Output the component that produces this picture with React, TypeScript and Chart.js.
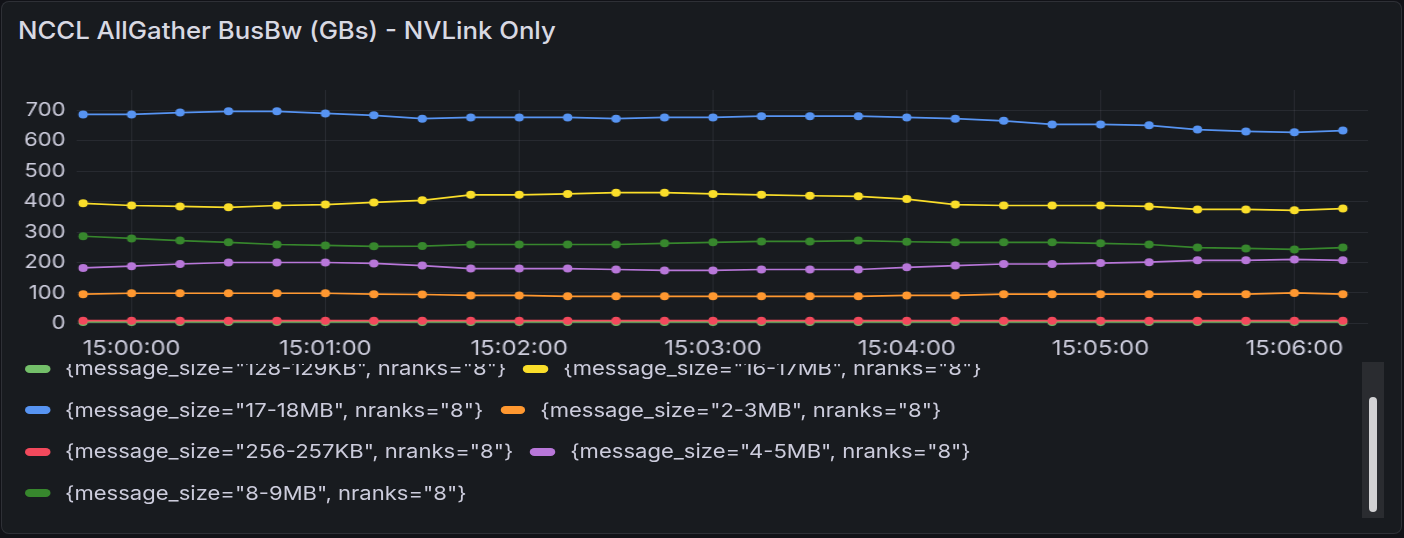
import React, { useEffect, useRef } from "react";
import { Chart, registerables } from "chart.js";

Chart.register(...registerables);

const times = [
  "14:59:45", "15:00:00", "15:00:15", "15:00:30", "15:00:45", "15:01:00", "15:01:15",
  "15:01:30", "15:01:45", "15:02:00", "15:02:15", "15:02:30", "15:02:45", "15:03:00",
  "15:03:15", "15:03:30", "15:03:45", "15:04:00", "15:04:15", "15:04:30", "15:04:45",
  "15:05:00", "15:05:15", "15:05:30", "15:05:45", "15:06:00", "15:06:15",
];

const seriesNames = [
  '{message_size="128-129KB", nranks="8"}',
  '{message_size="16-17MB", nranks="8"}',
  '{message_size="17-18MB", nranks="8"}',
  '{message_size="2-3MB", nranks="8"}',
  '{message_size="256-257KB", nranks="8"}',
  '{message_size="4-5MB", nranks="8"}',
  '{message_size="8-9MB", nranks="8"}',
];

const seriesColors = ["#73BF69", "#FADE2A", "#5794F2", "#FF9830", "#F2495C", "#B877D9", "#37872D"];

const size128KB = [5, 5, 5, 5, 5, 5, 5, 5, 5, 5, 5, 5, 5, 5, 5, 5, 5, 5, 5, 5, 5, 5, 5, 5, 5, 5, 5];
const size16MB = [394, 387, 384, 381, 387, 390, 397, 404, 422, 422, 425, 429, 429, 425, 422, 419, 417, 408, 390, 387, 387, 387, 384, 374, 374, 371, 377];
const size17MB = [686, 686, 692, 696, 696, 689, 683, 672, 676, 676, 676, 672, 676, 676, 680, 680, 680, 676, 672, 665, 653, 653, 650, 636, 630, 627, 633];
const size2MB = [96, 99, 99, 99, 99, 99, 96, 95, 92, 92, 89, 89, 89, 89, 89, 89, 89, 92, 92, 96, 96, 96, 96, 96, 96, 100, 96];
const size256KB = [9, 9, 9, 9, 9, 9, 9, 9, 9, 9, 9, 9, 9, 9, 9, 9, 9, 9, 9, 9, 9, 9, 9, 9, 9, 9, 9];
const size4MB = [182, 188, 195, 200, 200, 200, 197, 190, 180, 180, 180, 177, 174, 174, 177, 177, 177, 184, 190, 195, 195, 198, 201, 207, 207, 210, 207];
const size8MB = [286, 279, 272, 266, 259, 256, 253, 254, 259, 259, 259, 259, 263, 266, 269, 269, 272, 268, 266, 266, 266, 263, 259, 249, 246, 243, 249];

const seriesValues = [size128KB, size16MB, size17MB, size2MB, size256KB, size4MB, size8MB];

const legendRows = [[0, 1], [2, 3], [4, 5], [6]];

const yTickValues = [0, 100, 200, 300, 400, 500, 600, 700];
const xTickLabels = ["15:00:00", "15:01:00", "15:02:00", "15:03:00", "15:04:00", "15:05:00", "15:06:00"];

const FONT = "Inter, 'Noto Sans', sans-serif";
const TEXT = "#ccccdc";
const GRID = "rgba(204,204,220,0.09)";

// horizontal stretch of the reference rendering
const STRETCH = 1404 / 1210;
const CW = 1210;
const CH = 310;

function toSec(t: string): number {
  const [h, m, s] = t.split(":").map(Number);
  return h * 3600 + m * 60 + s - 15 * 3600;
}

function fmtSec(v: number): string {
  const total = 15 * 3600 + v;
  const h = Math.floor(total / 3600);
  const m = Math.floor((total % 3600) / 60);
  const s = total % 60;
  const p = (n: number) => String(n).padStart(2, "0");
  return `${p(h)}:${p(m)}:${p(s)}`;
}

function ChartCanvas() {
  const ref = useRef<HTMLCanvasElement | null>(null);
  useEffect(() => {
    if (!ref.current) return;
    const n = seriesValues.length;
    const chart = new Chart(ref.current, {
      type: "line",
      data: {
        datasets: seriesValues.map((vals, i) => ({
          label: seriesNames[i],
          data: vals.map((v, j) => ({ x: toSec(times[j]), y: v })),
          borderColor: seriesColors[i],
          backgroundColor: seriesColors[i],
          pointBackgroundColor: seriesColors[i],
          pointBorderWidth: 0,
          pointRadius: 4,
          borderWidth: 1.7,
          tension: 0,
          order: n - i,
        })),
      },
      options: {
        animation: false,
        responsive: false,
        maintainAspectRatio: false,
        layout: { padding: { left: 0, right: 31, top: 30, bottom: 0 } },
        plugins: { legend: { display: false }, tooltip: { enabled: false } },
        scales: {
          x: {
            type: "linear",
            min: -17.2,
            max: 382.8,
            grid: { color: GRID, drawTicks: false },
            border: { display: false },
            ticks: {
              autoSkip: false,
              maxRotation: 0,
              padding: 9,
              color: TEXT,
              font: { family: FONT, size: 20.5 },
              callback: (v: any) => fmtSec(Number(v)),
            },
            afterBuildTicks: (s: any) => {
              s.ticks = xTickLabels.map((t) => ({ value: toSec(t) }));
            },
            afterFit: (s: any) => {
              s.height = 42;
            },
          },
          y: {
            type: "linear",
            min: -15,
            max: 766,
            grid: { color: GRID, drawTicks: false },
            border: { display: false },
            ticks: {
              padding: 9,
              color: TEXT,
              font: { family: FONT, size: 19 },
            },
            afterBuildTicks: (s: any) => {
              s.ticks = yTickValues.map((v) => ({ value: v }));
            },
            afterFit: (s: any) => {
              s.width = 65.5;
            },
          },
        },
      } as any,
    });
    return () => chart.destroy();
  }, []);
  return (
    <div
      style={{
        position: "absolute",
        left: 0,
        top: 60,
        width: CW,
        height: CH,
        transform: `scaleX(${STRETCH})`,
        transformOrigin: "0 0",
      }}
    >
      <canvas ref={ref} width={CW} height={CH} style={{ display: "block", width: CW, height: CH }} />
    </div>
  );
}

export default function App() {
  useEffect(() => {
    document.body.style.margin = "0";
    document.body.style.background = "#111217";
  }, []);
  const LEG_TOP = 364;
  return (
    <div style={{ position: "fixed", left: 0, top: 0, width: 1404, height: 538, background: "#111217", overflow: "hidden", fontFamily: FONT }}>
      <div
        style={{
          position: "absolute",
          left: 1,
          top: 1,
          width: 1399,
          height: 531,
          background: "#181b1f",
          border: "1px solid rgba(204,204,220,0.12)",
          borderRadius: 8,
        }}
      />
      <div
        style={{
          position: "absolute",
          left: 18,
          top: 16,
          fontSize: 24,
          fontWeight: 500,
          color: "#d8d9e3",
          lineHeight: "30px",
          whiteSpace: "nowrap",
          transform: "scaleX(1.072)",
          transformOrigin: "0 0",
        }}
      >
        NCCL AllGather BusBw (GBs) - NVLink Only
      </div>
      <ChartCanvas />
      <div style={{ position: "absolute", left: 0, top: LEG_TOP, width: 1358, height: 154, overflow: "hidden" }}>
        {legendRows.map((row, ri) => (
          <div
            key={ri}
            style={{
              position: "absolute",
              left: 25,
              top: 368.5 - LEG_TOP - 20 + ri * 41.5,
              height: 40,
              display: "flex",
              alignItems: "center",
              whiteSpace: "nowrap",
              transform: `scaleX(${STRETCH})`,
              transformOrigin: "0 0",
            }}
          >
            {row.map((si, k) => (
              <div key={si} style={{ display: "flex", alignItems: "center", marginLeft: k > 0 ? 14.5 : 0 }}>
                <span
                  style={{
                    display: "inline-block",
                    width: 21.5,
                    height: 8,
                    borderRadius: 4,
                    background: seriesColors[si],
                    marginRight: 13,
                  }}
                />
                <span style={{ fontSize: 19, color: TEXT }}>{seriesNames[si]}</span>
              </div>
            ))}
          </div>
        ))}
      </div>
      <div style={{ position: "absolute", left: 1362, top: 362, width: 22, height: 156, background: "#2a2c30" }} />
      <div style={{ position: "absolute", left: 1369, top: 397, width: 8, height: 115, background: "#d2d2d4", borderRadius: 4 }} />
    </div>
  );
}
